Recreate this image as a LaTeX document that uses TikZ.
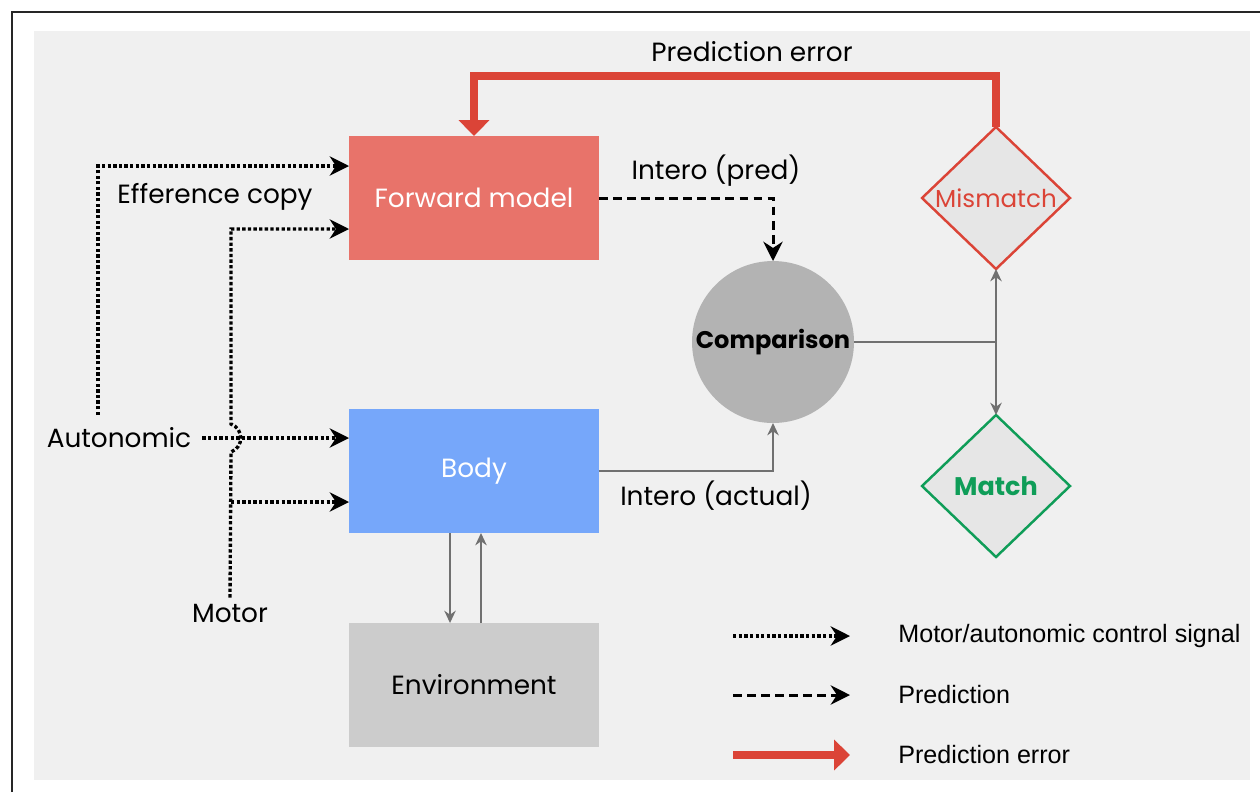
\documentclass[tikz,border=0pt]{standalone}
\usepackage{fontspec}
\setmainfont{Poppins}
\newfontfamily\legendfont{Liberation Sans}
\usetikzlibrary{arrows.meta, positioning, shapes.geometric, calc}
\definecolor{fwdred}{HTML}{E8736A}
\definecolor{bodyblue}{HTML}{76A7FA}
\definecolor{envgray}{HTML}{CCCCCC}
\definecolor{cmpgray}{HTML}{B3B3B3}
\definecolor{bggray}{HTML}{F0F0F0}
\definecolor{dmdfill}{HTML}{E6E6E6}
\definecolor{errred}{HTML}{DB4437}
\definecolor{okgreen}{HTML}{0F9D58}
\definecolor{wire}{HTML}{707070}

\begin{document}
\begin{tikzpicture}[
  x=0.02cm, y=-0.02cm,
  font=\fontsize{15}{17}\selectfont,
  box/.style={minimum width=5cm, minimum height=2.48cm, inner sep=0pt, outer sep=0pt},
  dmd/.style={diamond, draw, line width=1.4pt, fill=dmdfill, minimum width=2.96cm,
              minimum height=2.84cm, inner sep=0pt, outer sep=0pt},
  ctrl/.style={line width=1.9pt, dash pattern=on 1.9pt off 1.3pt,
               -{Stealth[length=11pt, width=11pt]}},
  pred/.style={line width=1.7pt, dash pattern=on 5pt off 3pt,
               -{Stealth[length=11pt, width=11pt]}},
  err/.style={line width=5pt, errred, line join=miter,
              -{Triangle[length=9pt, width=17pt]}},
  sig/.style={line width=1.1pt, wire, -{Stealth[length=7pt, width=6.5pt]}},
  legtext/.style={anchor=west, inner sep=0pt, font=\legendfont\fontsize{14.3}{16}\selectfont},
]
\useasboundingbox (0,0) rectangle (1260,792);
% frame and background
\fill[bggray] (34,31) rectangle (1250,780);
\draw[line width=1.2pt, black!85] (12,792) -- (12,12) -- (1260,12);

% blocks
\node[box, fill=fwdred, text=white] (fwd) at (474,198) {Forward model};
\node[box, fill=bodyblue, text=white] (body) at (474,471) {Body};
\node[box, fill=envgray] (env) at (474,685) {Environment};
\node[circle, fill=cmpgray, minimum size=3.24cm, inner sep=0pt, outer sep=0pt,
      font=\fontsize{13.7}{16}\selectfont\bfseries] (cmp) at (773,342) {Comparison};
\node[dmd, draw=errred, label={[text=errred, font=\fontsize{14}{16}\selectfont]center:Mismatch}] (mis) at (996,198) {};
\node[dmd, draw=okgreen, label={[text=okgreen, font=\fontsize{14.5}{16}\selectfont\bfseries]center:Match}] (mat) at (996,486) {};

% labels
\node (lerr) at (752,52) {Prediction error};
\node (lpred) at (716,171) {Intero (pred)};
\node (lact) at (716,496) {Intero (actual)};
\node (leff) at (215,197) {Efference copy};
\node (auto) at (119,438) {Autonomic};
\node (motor) at (230,613) {Motor};

% helper points
\coordinate (errtop) at (996,76);
\coordinate (atop) at (98,166);
\coordinate (abot) at (98,415);
\coordinate (mtop) at (231,229);
\coordinate (mbody) at (231,502);
\coordinate (split) at (996,342);

% prediction error loop
\draw[err] (mis.north) -- (errtop) -| (fwd.north);
% prediction
\draw[pred] (fwd.east) -| (cmp.north);
% interoception
\draw[sig] (body.east) -| (cmp.south);
\draw[wire, line width=1.1pt] (cmp.east) -- (split);
\draw[sig] (split) -- (mis.south);
\draw[sig] (split) -- (mat.north);
% body <-> environment
\draw[sig] ([xshift=-0.48cm]body.south) -- ([xshift=-0.48cm]env.north);
\draw[sig] ([xshift=0.14cm]env.north) -- ([xshift=0.14cm]body.south);

% control signals
\draw[ctrl] (abot) -- (atop) -- (atop -| fwd.west);
\draw[ctrl] ([xshift=0.1cm]auto.east) -- (auto.east -| body.west);
\draw[ctrl] (motor.north) -- (231,452) .. controls (244,447) and (244,429) .. (231,424)
  -- (mtop) -- (mtop -| fwd.west);
\draw[ctrl] (mbody) -- (mbody -| body.west);

% legend
\foreach \y/\sty/\txt [count=\i] in {636/ctrl/{Motor/autonomic control signal},
    695/pred/Prediction, 755/err/{Prediction error}}{
  \coordinate (ls\i) at (733,\y);
  \coordinate (le\i) at (850,\y);
  \draw[\sty] (ls\i) -- (le\i);
  \node[legtext] (lt\i) at (898,\y) {\txt};
}
\end{tikzpicture}
\end{document}
